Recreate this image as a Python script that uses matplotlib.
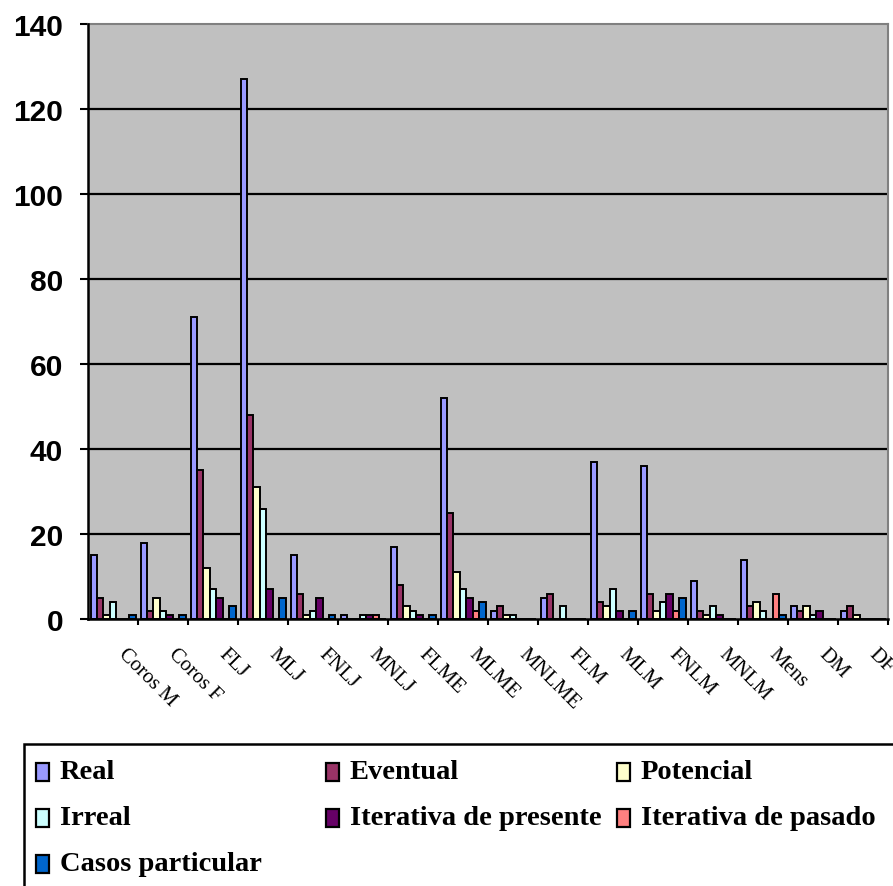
import matplotlib
matplotlib.use("Agg")
import matplotlib.pyplot as plt
from matplotlib.patches import Rectangle
from matplotlib.transforms import blended_transform_factory, ScaledTranslation
import numpy as np

categories = ["Coros M", "Coros F", "FLJ", "MLJ", "FNLJ", "MNLJ", "FLME", "MLME",
              "MNLME", "FLM", "MLM", "FNLM", "MNLM", "Mens", "DM", "DF"]
series_names = ["Real", "Eventual", "Potencial", "Irreal",
                "Iterativa de presente", "Iterativa de pasado", "Casos particular"]
real =      [15, 18, 71, 127, 15, 1, 17, 52, 2, 5, 37, 36, 9, 14, 3, 2]
eventual =  [5, 2, 35, 48, 6, 0, 8, 25, 3, 6, 4, 6, 2, 3, 2, 3]
potencial = [1, 5, 12, 31, 1, 0, 3, 11, 1, 0, 3, 2, 1, 4, 3, 1]
irreal =    [4, 2, 7, 26, 2, 1, 2, 7, 1, 3, 7, 4, 3, 2, 1, 0]
iter_pres = [0, 1, 5, 7, 5, 1, 1, 5, 0, 0, 2, 6, 1, 0, 2, 0]
iter_pas =  [0, 0, 0, 0, 0, 1, 0, 2, 0, 0, 0, 2, 0, 6, 0, 0]
casos =     [1, 1, 3, 5, 1, 0, 1, 4, 0, 0, 2, 5, 0, 1, 0, 0]
y_ticks = [0, 20, 40, 60, 80, 100, 120, 140]

series = [real, eventual, potencial, irreal, iter_pres, iter_pas, casos]
colors = ["#9999FF", "#993366", "#FFFFCC", "#CCFFFF", "#660066", "#FF8080", "#0066CC"]

W, H, DPI = 893, 887, 100
fig = plt.figure(figsize=(W / DPI, H / DPI), dpi=DPI)
fig.patch.set_facecolor("white")

# plot area in pixels: x 88..888, y 25..620 (from top)
ax = fig.add_axes([88 / W, (H - 620) / H, 800 / W, 595 / H])
ax.set_facecolor("#C0C0C0")

n = len(series)
group = 0.9
bw = group / n
x = np.arange(len(categories))
for j, (vals, col) in enumerate(zip(series, colors)):
    ax.bar(x + 0.5 - group / 2 + j * bw, vals, width=bw, align="edge",
           color=col, edgecolor="black", linewidth=1.4, zorder=3)

ax.set_xlim(0, len(categories))
ax.set_ylim(0, 140)

# horizontal gridlines
for yv in y_ticks[1:-1]:
    ax.axhline(yv, color="black", linewidth=1.6, zorder=1)

for side in ("top", "right"):
    ax.spines[side].set_color("#808080")
    ax.spines[side].set_linewidth(1.5)
for side in ("left", "bottom"):
    ax.spines[side].set_color("black")
    ax.spines[side].set_linewidth(1.8)
    ax.spines[side].set_zorder(4)

ax.set_yticks(y_ticks)
ax.set_yticklabels([str(v) for v in y_ticks], fontfamily="Liberation Sans",
                   fontweight="bold", fontsize=21.5)
ax.tick_params(axis="y", length=6, width=1.5, direction="out", pad=12, color="black")

ax.set_xticks(np.arange(1, len(categories) + 1))
ax.set_xticklabels([])
ax.tick_params(axis="x", length=4.5, width=1.5, direction="out", color="black")

# rotated category labels
trans = blended_transform_factory(ax.transData, ax.transAxes) + \
    ScaledTranslation(15 / DPI, -25 / DPI, fig.dpi_scale_trans)
for i, name in enumerate(categories):
    ax.text(i + 0.5, 0, name, transform=trans, rotation=-45, rotation_mode="anchor",
            ha="left", va="top", fontfamily="Liberation Serif", fontsize=15,
            clip_on=False)

# legend box, three columns filled row by row
box_left, box_top = 24, 745
fig.patches.append(Rectangle((box_left / W, -0.05), 1.1, (H - box_top) / H + 0.05,
                             transform=fig.transFigure, facecolor="white",
                             edgecolor="black", linewidth=1.8, zorder=5))
col_x = [36, 326, 617]
row_y = [773, 819, 865]
for k, (name, col) in enumerate(zip(series_names, colors)):
    r, c = divmod(k, 3)
    px, py = col_x[c], row_y[r]
    fig.patches.append(Rectangle((px / W, (H - py - 9) / H), 13 / W, 18 / H,
                                 transform=fig.transFigure, facecolor=col,
                                 edgecolor="black", linewidth=1.6, zorder=6))
    fig.text((px + 24) / W, (H - py) / H, name, ha="left", va="center",
             fontfamily="Liberation Serif", fontweight="bold", fontsize=20.5, zorder=7)

fig.savefig("out.png", dpi=DPI)
